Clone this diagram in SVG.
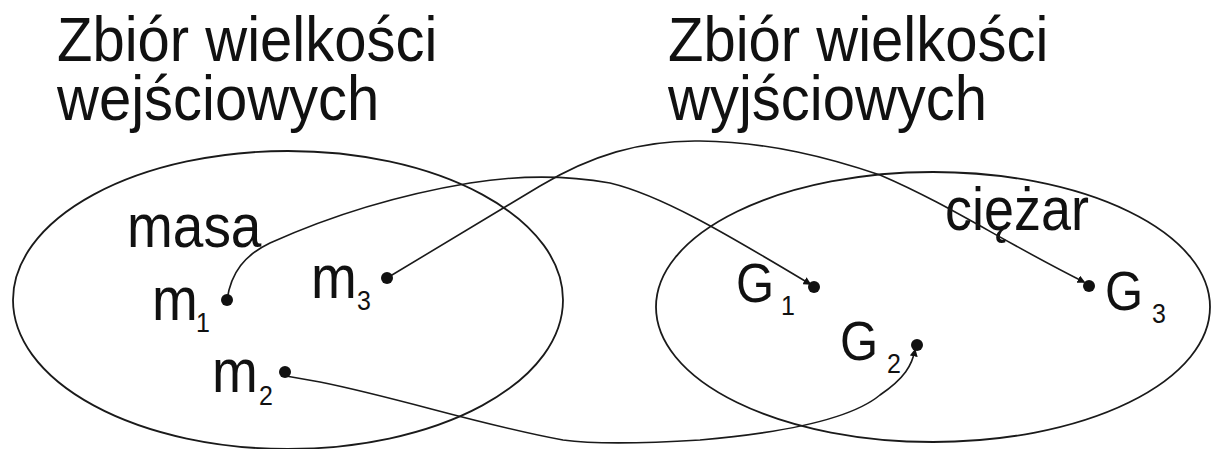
<svg xmlns="http://www.w3.org/2000/svg" width="1211" height="449" viewBox="0 0 1211 449">
<style>
.t{font-family:"Liberation Sans",Arial,sans-serif;fill:#111}
.set{fill:none;stroke:#1a1a1a;stroke-width:1.8}
.c{fill:none;stroke:#1a1a1a;stroke-width:1.6}
.dot{fill:#111}
</style>
<defs>
<marker id="ah" viewBox="0 0 10 10" refX="8" refY="5" markerWidth="5" markerHeight="5" orient="auto" markerUnits="strokeWidth">
<path d="M0,0 L10,5 L0,10 z" fill="#111"/>
</marker>
</defs>
<rect width="1211" height="449" fill="#fff"/>
<g id="title-in">
<text class="t" font-size="58" transform="translate(57,61) scale(1,1.08)"><tspan x="0" y="0">Zbiór wielkości</tspan><tspan x="0" y="54.6">wejściowych</tspan></text>
</g>
<g id="title-out">
<text class="t" font-size="58" transform="translate(668,61) scale(1,1.08)"><tspan x="0" y="0">Zbiór wielkości</tspan><tspan x="0" y="54.6">wyjściowych</tspan></text>
</g>
<g id="set-in">
<ellipse class="set" cx="288" cy="300" rx="275" ry="149"/>
<text class="t" font-size="55" transform="translate(127,247) scale(1,1.12)">masa</text>
</g>
<g id="set-out">
<ellipse class="set" cx="933" cy="307" rx="277" ry="135"/>
<text class="t" font-size="54" transform="translate(945,230) scale(1,1.12)">ciężar</text>
</g>
<g id="connectors">
<path class="c" d="M227,300 C231,272 245,255 270,243 C310,225 380,198 470,183 C520,175 570,176 610,183 C660,195 720,230 810,284" marker-end="url(#ah)"/>
<path class="c" d="M387,278 L540,186 C590,156 640,140 700,141 C770,142 830,158 880,175 C950,205 1000,240 1084,282" marker-end="url(#ah)"/>
<path class="c" d="M286,376 L320,382 C400,398 480,425 563,440 C600,445 650,443 700,440 C780,433 850,420 880,395 C905,378 912,365 915,350" marker-end="url(#ah)"/>
</g>
<g id="m1">
<circle class="dot" cx="227" cy="300" r="6"/>
<text class="t" font-size="55" transform="translate(152,320) scale(1,1.12)">m</text>
<text class="t" font-size="25" transform="translate(196,332) scale(1,1.12)">1</text>
</g>
<g id="m2">
<circle class="dot" cx="285" cy="372" r="6"/>
<text class="t" font-size="55" transform="translate(212,392) scale(1,1.12)">m</text>
<text class="t" font-size="25" transform="translate(259,405) scale(1,1.12)">2</text>
</g>
<g id="m3">
<circle class="dot" cx="387" cy="278" r="6"/>
<text class="t" font-size="55" transform="translate(311,298) scale(1,1.12)">m</text>
<text class="t" font-size="25" transform="translate(357,310) scale(1,1.12)">3</text>
</g>
<g id="G1">
<circle class="dot" cx="814" cy="287" r="6"/>
<text class="t" font-size="49" transform="translate(736,302) scale(1,1.12)">G</text>
<text class="t" font-size="25" transform="translate(781,315) scale(1,1.12)">1</text>
</g>
<g id="G2">
<circle class="dot" cx="917" cy="345" r="6"/>
<text class="t" font-size="49" transform="translate(840,360) scale(1,1.12)">G</text>
<text class="t" font-size="25" transform="translate(887,373) scale(1,1.12)">2</text>
</g>
<g id="G3">
<circle class="dot" cx="1089" cy="286" r="6"/>
<text class="t" font-size="49" transform="translate(1105,310) scale(1,1.12)">G</text>
<text class="t" font-size="25" transform="translate(1152,323) scale(1,1.12)">3</text>
</g>
</svg>
